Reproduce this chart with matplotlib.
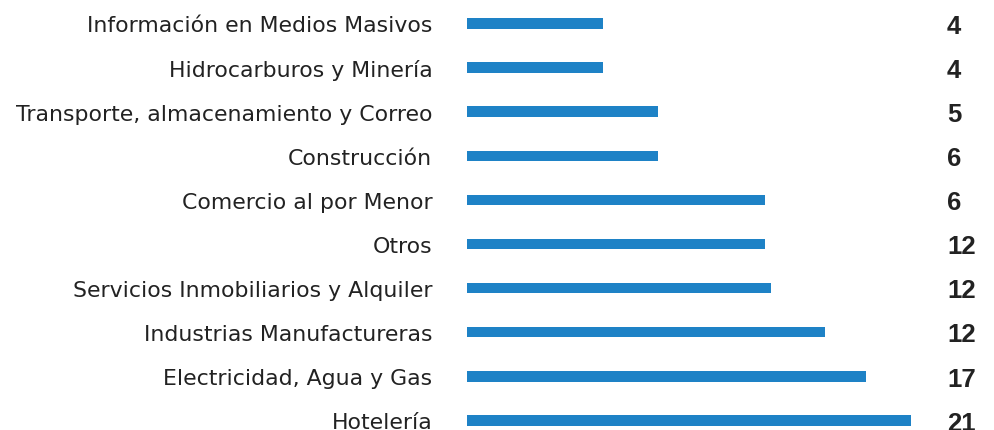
import matplotlib.pyplot as plt
import matplotlib.transforms as mtransforms

categories = ['Información en Medios Masivos', 'Hidrocarburos y Minería',
              'Transporte, almacenamiento y Correo', 'Construcción',
              'Comercio al por Menor', 'Otros',
              'Servicios Inmobiliarios y Alquiler', 'Industrias Manufactureras',
              'Electricidad, Agua y Gas', 'Hotelería']
# bar lengths as drawn (scaled so Hotelería = 21)
bar_values = [6.41, 6.41, 9.01, 9.01, 14.07, 14.07, 14.38, 16.92, 18.87, 21.0]
# numbers printed at the right
value_labels = ['4', '4', '5', '6', '6', '12', '12', '12', '17', '21']

W, H = 994, 431
fig = plt.figure(figsize=(W / 100, H / 100), dpi=100)
x0 = 467 / W
ax = fig.add_axes([x0, 0, 1 - x0, 1])

ypos = list(range(len(categories)))
ax.barh(ypos, bar_values, height=0.24, color='#1e82c6')

xmax = 21.0 * (W - 467) / 444.3
ax.set_xlim(0, xmax)
ax.set_ylim((H - 24.5) / 44.1, -24.5 / 44.1)

ax.set_yticks(ypos)
ax.set_yticklabels(categories, fontsize=15.8, color='#222222',
                   family='DejaVu Sans')
ax.tick_params(axis='y', length=0, pad=25)
ax.set_xticks([])
for s in ax.spines.values():
    s.set_visible(False)

trans = mtransforms.blended_transform_factory(fig.transFigure, ax.transData)
for y, lab in zip(ypos, value_labels):
    ax.text(947 / W, y + 0.05, lab, transform=trans, ha='left', va='center',
            fontsize=18.5, fontweight='bold', color='#222222',
            family='Liberation Sans')

fig.savefig('out.png', dpi=100)
